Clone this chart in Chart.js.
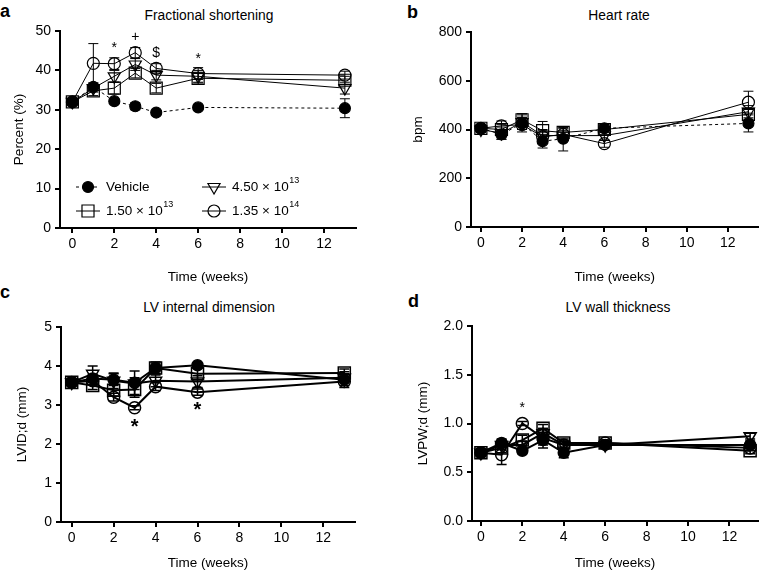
<!DOCTYPE html>
<html>
<head>
<meta charset="utf-8">
<script src="https://cdn.jsdelivr.net/npm/chart.js@4.4.1/dist/chart.umd.min.js"></script>
<style>
  html, body { margin: 0; padding: 0; background: #fff; }
  body { width: 768px; height: 570px; position: relative; overflow: hidden;
         font-family: 'Liberation Sans', Arial, sans-serif; color: #000; }
  .panel { position: absolute; width: 384px; height: 285px; }
  .letter { position: absolute; font-weight: bold; font-size: 18px; line-height: 18px; }
  .title { position: absolute; font-size: 13.8px; line-height: 14px; white-space: nowrap;
           transform: translate(-50%, -50%); }
</style>
</head>
<body>
<div class="letter" style="left:0px;top:2px">a</div>
<div class="letter" style="left:407px;top:3px">b</div>
<div class="letter" style="left:0px;top:283px">c</div>
<div class="letter" style="left:408px;top:292px">d</div>
<div class="title" style="left:209px;top:16px">Fractional shortening</div>
<div class="title" style="left:619px;top:16px">Heart rate</div>
<div class="title" style="left:209px;top:308px">LV internal dimension</div>
<div class="title" style="left:618px;top:308px">LV wall thickness</div>

<div class="panel" style="left:0;top:0"><canvas id="fsChart" width="384" height="285"></canvas></div>
<div class="panel" style="left:384px;top:0"><canvas id="hrChart" width="384" height="285"></canvas></div>
<div class="panel" style="left:0;top:285px"><canvas id="lvidChart" width="384" height="285"></canvas></div>
<div class="panel" style="left:384px;top:285px"><canvas id="lvpwChart" width="384" height="285"></canvas></div>

<script>
// shared
const weeks = [0, 1, 2, 3, 4, 6, 13];
const weekTicks = [0, 2, 4, 6, 8, 10, 12];
const groupLabels = ['Vehicle', '1.50 × 10', '4.50 × 10', '1.35 × 10'];
const groupExps = ['', '13', '13', '14'];

// a: fractional shortening (%)
const fsVehicle = [32.0, 35.8, 32.2, 30.9, 29.3, 30.6, 30.4];
const fsLow = [32.0, 34.8, 35.5, 39.3, 35.5, 38.0, 37.5];
const fsMid = [32.0, 35.5, 38.5, 41.5, 38.8, 38.5, 35.5];
const fsHigh = [32.0, 41.8, 41.7, 44.5, 40.5, 39.2, 38.8];
const fsVehicleErr = [0.6, 1.0, 0.6, 0.9, 0.6, 0.5, 2.4];
const fsLowErr = [0.6, 1.2, 1.5, 1.2, 1.2, 1.2, 1.0];
const fsMidErr = [0.6, 1.0, 1.5, 1.5, 1.2, 1.5, 1.5];
const fsHighErr = [0.6, 5.0, 1.5, 1.3, 1.2, 1.5, 1.0];
const fsTicks = [0, 10, 20, 30, 40, 50];
const fsMarkWeeks = [2, 3, 4, 6];
const fsMarkText = ['*', '+', '$', '*'];
const fsMarkLevel = [45.7, 48.5, 44.5, 42.9];

// b: heart rate (bpm)
const hrVehicle = [405, 380, 425, 352, 362, 405, 425];
const hrLow = [405, 400, 440, 395, 388, 400, 462];
const hrMid = [400, 385, 430, 375, 375, 375, 473];
const hrHigh = [405, 415, 420, 370, 380, 342, 512];
const hrVehicleErr = [15, 20, 25, 28, 50, 15, 35];
const hrLowErr = [15, 20, 25, 38, 20, 20, 20];
const hrMidErr = [10, 25, 30, 25, 20, 20, 25];
const hrHighErr = [15, 20, 30, 25, 25, 15, 45];
const hrTicks = [0, 200, 400, 600, 800];

// c: LV internal dimension (mm)
const lvidVehicle = [3.58, 3.68, 3.65, 3.57, 3.95, 4.02, 3.65];
const lvidLow = [3.58, 3.50, 3.38, 3.40, 3.95, 3.80, 3.82];
const lvidMid = [3.58, 3.80, 3.62, 3.55, 3.62, 3.60, 3.70];
const lvidHigh = [3.58, 3.62, 3.20, 2.93, 3.47, 3.33, 3.60];
const lvidVehicleErr = [0.05, 0.10, 0.15, 0.30, 0.15, 0.05, 0.20];
const lvidLowErr = [0.08, 0.10, 0.15, 0.20, 0.10, 0.15, 0.10];
const lvidMidErr = [0.05, 0.20, 0.20, 0.15, 0.15, 0.15, 0.10];
const lvidHighErr = [0.05, 0.10, 0.10, 0.05, 0.10, 0.08, 0.10];
const lvidTicks = [0, 1, 2, 3, 4, 5];
const lvidMarkWeeks = [3, 6];
const lvidMarkText = ['*', '*'];
const lvidMarkLevel = [2.43, 2.87];

// d: LV wall thickness (mm)
const lvpwVehicle = [0.70, 0.80, 0.72, 0.83, 0.70, 0.78, 0.78];
const lvpwLow = [0.70, 0.75, 0.83, 0.95, 0.80, 0.80, 0.72];
const lvpwMid = [0.70, 0.78, 0.78, 0.90, 0.78, 0.78, 0.87];
const lvpwHigh = [0.70, 0.68, 1.00, 0.85, 0.78, 0.80, 0.75];
const lvpwVehicleErr = [0.03, 0.04, 0.03, 0.05, 0.05, 0.03, 0.04];
const lvpwLowErr = [0.03, 0.05, 0.05, 0.04, 0.04, 0.03, 0.03];
const lvpwMidErr = [0.03, 0.05, 0.04, 0.05, 0.04, 0.03, 0.03];
const lvpwHighErr = [0.03, 0.10, 0.02, 0.10, 0.04, 0.03, 0.03];
const lvpwTicks = [0, 0.5, 1.0, 1.5, 2.0];
const lvpwMarkWeeks = [2];
const lvpwMarkText = ['*'];
const lvpwMarkLevel = [1.16];

const FONT = "'Liberation Sans', Arial, sans-serif";
Chart.defaults.font.family = FONT;
Chart.defaults.color = '#000';

// marker look per group: vehicle, low, mid, high dose
const markers = [
    {style: 'circle', radius: 5.5, fill: '#000', rot: 0},
    {style: 'rect', radius: 8.5, fill: 'rgba(0,0,0,0)', rot: 0},
    {style: 'triangle', radius: 7, fill: 'rgba(0,0,0,0)', rot: 180},
    {style: 'circle', radius: 6, fill: 'rgba(0,0,0,0)', rot: 0}
];

function drawMarker(ctx, m, x, y) {
    ctx.beginPath();
    if (m.style === 'circle') {
        ctx.arc(x, y, m.radius, 0, Math.PI * 2);
    } else if (m.style === 'rect') {
        const h = m.radius * Math.SQRT1_2;
        ctx.rect(x - h, y - h, 2 * h, 2 * h);
    } else {
        let rad = m.rot * Math.PI / 180;
        ctx.moveTo(x + Math.sin(rad) * m.radius, y - Math.cos(rad) * m.radius);
        rad += 2 * Math.PI / 3;
        ctx.lineTo(x + Math.sin(rad) * m.radius, y - Math.cos(rad) * m.radius);
        rad += 2 * Math.PI / 3;
        ctx.lineTo(x + Math.sin(rad) * m.radius, y - Math.cos(rad) * m.radius);
        ctx.closePath();
    }
    ctx.fillStyle = m.fill;
    ctx.fill();
    ctx.stroke();
}

const errorBars = {
    id: 'errorBars',
    beforeDatasetsDraw(chart, args, opts) {
        const {ctx} = chart;
        const xs = chart.scales.x, ys = chart.scales.y;
        ctx.save();
        ctx.strokeStyle = '#000';
        ctx.lineWidth = opts.width;
        chart.data.datasets.forEach(ds => {
            ds.data.forEach((p, i) => {
                const e = ds.errors[i];
                const px = xs.getPixelForValue(p.x);
                const y1 = ys.getPixelForValue(p.y + e);
                const y2 = ys.getPixelForValue(p.y - e);
                ctx.beginPath();
                ctx.moveTo(px, y1); ctx.lineTo(px, y2);
                ctx.moveTo(px - 5, y1); ctx.lineTo(px + 5, y1);
                ctx.moveTo(px - 5, y2); ctx.lineTo(px + 5, y2);
                ctx.stroke();
            });
        });
        ctx.restore();
    }
};

const sigMarks = {
    id: 'sigMarks',
    afterDatasetsDraw(chart, args, opts) {
        const {ctx} = chart;
        ctx.save();
        ctx.fillStyle = '#000';
        ctx.textAlign = 'center';
        ctx.textBaseline = 'middle';
        ctx.font = opts.font;
        opts.weeks.forEach((w, i) => {
            ctx.fillText(opts.text[i], chart.scales.x.getPixelForValue(w),
                chart.scales.y.getPixelForValue(opts.level[i]));
        });
        ctx.restore();
    }
};

// legend inside panel a
const fsLegend = {
    id: 'fsLegend',
    afterDraw(chart) {
        const {ctx, chartArea: ca} = chart;
        ctx.save();
        markers.forEach((m, g) => {
            const cx = ca.left + (g < 2 ? 28 : 154);
            const cy = ca.top + (g % 2 === 0 ? 156 : 180);
            ctx.strokeStyle = '#000';
            ctx.lineWidth = 1;
            ctx.setLineDash(g === 0 ? [3, 3] : []);
            ctx.beginPath();
            ctx.moveTo(cx - 12, cy); ctx.lineTo(cx + 12, cy);
            ctx.stroke();
            ctx.setLineDash([]);
            ctx.lineWidth = 1.2;
            drawMarker(ctx, m, cx, cy);
            ctx.fillStyle = '#000';
            ctx.textAlign = 'left';
            ctx.textBaseline = 'middle';
            ctx.font = '13.5px ' + FONT;
            const tx = cx + 18;
            ctx.fillText(groupLabels[g], tx, cy);
            if (groupExps[g]) {
                const w = ctx.measureText(groupLabels[g]).width;
                ctx.font = '9px ' + FONT;
                ctx.fillText(groupExps[g], tx + w + 0.5, cy - 6);
            }
        });
        ctx.restore();
    }
};

function buildDatasets(series, errs, lineW, dashVehicle, ptW) {
    return series.map((vals, g) => ({
        label: groupLabels[g] + groupExps[g],
        data: vals.map((v, i) => ({x: weeks[i], y: v})),
        errors: errs[g],
        borderColor: '#000',
        borderWidth: lineW,
        borderDash: (g === 0 && dashVehicle) ? [3, 3] : [],
        pointStyle: markers[g].style,
        pointRadius: markers[g].radius,
        pointRotation: markers[g].rot,
        pointBackgroundColor: markers[g].fill,
        pointBorderColor: '#000',
        pointBorderWidth: ptW,
        tension: 0,
        fill: false
    }));
}

function makePanel(id, p) {
    const H = 285;
    const axisLine = {drawOnChartArea: false, drawTicks: true, tickLength: 5, color: '#000', lineWidth: 2};
    const border = {display: true, color: '#000', width: 2};
    return new Chart(document.getElementById(id), {
        type: 'line',
        data: {datasets: buildDatasets(p.series, p.errs, p.lineW, p.dash, p.ptW)},
        options: {
            responsive: false,
            animation: false,
            layout: {padding: {top: p.area.top, right: 384 - p.area.right, left: 0, bottom: 0}},
            plugins: {
                legend: {display: false},
                tooltip: {enabled: false},
                errorBars: {width: p.errW},
                sigMarks: {weeks: p.markWeeks, text: p.markText, level: p.markLevel, font: p.markFont}
            },
            scales: {
                x: {
                    type: 'linear',
                    min: p.xMin, max: p.xMax,
                    afterBuildTicks: s => { s.ticks = weekTicks.map(v => ({value: v})); },
                    afterFit: s => { s.height = H - p.area.bottom; },
                    grid: axisLine,
                    border: border,
                    ticks: {color: '#000', font: {size: 14}, padding: 3, maxRotation: 0, autoSkip: false},
                    title: {display: true, text: 'Time (weeks)', color: '#000',
                        font: {size: 13.5, lineHeight: 1}, padding: {top: 0, bottom: p.xTitlePad}}
                },
                y: {
                    min: p.yTicks[0], max: p.yTicks[p.yTicks.length - 1],
                    afterBuildTicks: s => { s.ticks = p.yTicks.map(v => ({value: v})); },
                    afterFit: s => { s.width = p.area.left; },
                    grid: axisLine,
                    border: border,
                    ticks: {color: '#000', font: {size: 14}, padding: 4, autoSkip: false,
                        callback: p.tickFmt || (v => v)},
                    title: {display: true, text: p.yTitle, color: '#000',
                        font: {size: 13.5, lineHeight: 1}, padding: {top: p.yTitlePad, bottom: 0}}
                }
            }
        },
        plugins: p.legend ? [errorBars, sigMarks, fsLegend] : [errorBars, sigMarks]
    });
}

document.addEventListener('DOMContentLoaded', () => {
    makePanel('fsChart', {
        series: [fsVehicle, fsLow, fsMid, fsHigh],
        errs: [fsVehicleErr, fsLowErr, fsMidErr, fsHighErr],
        lineW: 1, ptW: 1.2, errW: 1, dash: true,
        area: {top: 31, bottom: 228, left: 60, right: 356},
        xMin: -0.59, xMax: 13.53, xTitlePad: 0.75,
        yTicks: fsTicks, yTitle: 'Percent (%)', yTitlePad: 12.25,
        markWeeks: fsMarkWeeks, markText: fsMarkText, markLevel: fsMarkLevel,
        markFont: '14px ' + FONT,
        legend: true
    });

    makePanel('hrChart', {
        series: [hrVehicle, hrLow, hrMid, hrHigh],
        errs: [hrVehicleErr, hrLowErr, hrMidErr, hrHighErr],
        lineW: 1, ptW: 1.2, errW: 1, dash: true,
        area: {top: 32, bottom: 227, left: 87, right: 380},
        xMin: -0.48, xMax: 13.48, xTitlePad: 0.75,
        yTicks: hrTicks, yTitle: 'bpm', yTitlePad: 27.25,
        markWeeks: [], markText: [], markLevel: [], markFont: '14px ' + FONT
    });

    makePanel('lvidChart', {
        series: [lvidVehicle, lvidLow, lvidMid, lvidHigh],
        errs: [lvidVehicleErr, lvidLowErr, lvidMidErr, lvidHighErr],
        lineW: 2, ptW: 1.5, errW: 1.5, dash: false,
        area: {top: 42, bottom: 237, left: 61, right: 355},
        xMin: -0.51, xMax: 13.51, xTitlePad: 0.25,
        yTicks: lvidTicks, yTitle: 'LVID;d (mm)', yTitlePad: 15.25,
        markWeeks: lvidMarkWeeks, markText: lvidMarkText, markLevel: lvidMarkLevel,
        markFont: 'bold 20px ' + FONT
    });

    makePanel('lvpwChart', {
        series: [lvpwVehicle, lvpwLow, lvpwMid, lvpwHigh],
        errs: [lvpwVehicleErr, lvpwLowErr, lvpwMidErr, lvpwHighErr],
        lineW: 2, ptW: 1.5, errW: 1.5, dash: false,
        area: {top: 41, bottom: 236, left: 88, right: 378},
        xMin: -0.43, xMax: 13.38, xTitlePad: 0.25,
        yTicks: lvpwTicks, yTitle: 'LVPW;d (mm)', yTitlePad: 32.25,
        markWeeks: lvpwMarkWeeks, markText: lvpwMarkText, markLevel: lvpwMarkLevel,
        markFont: '14px ' + FONT,
        tickFmt: v => v.toFixed(1)
    });
});
</script>
</body>
</html>
